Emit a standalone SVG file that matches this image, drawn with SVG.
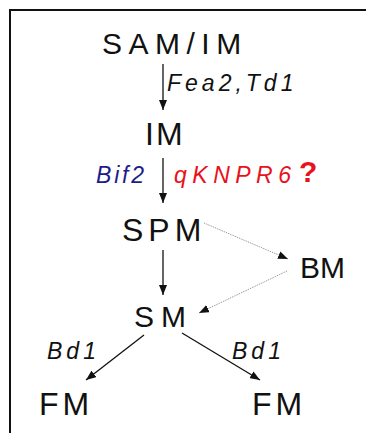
<svg xmlns="http://www.w3.org/2000/svg" width="366" height="433" viewBox="0 0 366 433">
<style>
text{font-family:"Liberation Sans",Arial,sans-serif;fill:#111}
.n{font-size:30px}
.g{font-size:23px;font-style:italic}
.s{stroke:#111;stroke-width:1.3;fill:none}
.d{stroke:#888;stroke-width:1;stroke-dasharray:1 1;fill:none}
</style>
<defs>
<marker id="ah" markerUnits="userSpaceOnUse" markerWidth="10" markerHeight="8" refX="10" refY="4" orient="auto">
<path d="M0,0 L10,4 L0,8 z" fill="#111"/>
</marker>
</defs>
<rect width="366" height="433" fill="#fff"/>
<path d="M10,433 V10 H366" fill="none" stroke="#111" stroke-width="2"/>
<g id="connectors">
<line class="s" x1="163" y1="64" x2="163" y2="110" marker-end="url(#ah)"/>
<line class="s" x1="163" y1="158" x2="163" y2="203" marker-end="url(#ah)"/>
<line class="s" x1="163" y1="250" x2="163" y2="295" marker-end="url(#ah)"/>
<line class="d" x1="204" y1="223" x2="288" y2="259" marker-end="url(#ah)"/>
<line class="d" x1="287" y1="271" x2="199" y2="313" marker-end="url(#ah)"/>
<line class="s" x1="144" y1="335" x2="86" y2="380" marker-end="url(#ah)"/>
<line class="s" x1="182" y1="333" x2="260" y2="380" marker-end="url(#ah)"/>
<text class="g" x="167" y="90.5" letter-spacing="4">Fea2,Td1</text>
<text class="g" x="96" y="183" letter-spacing="2.8" style="fill:#1c1c8a">Bif2</text>
<text class="g" x="174" y="183" letter-spacing="5.5" style="fill:#e8121c">qKNPR6</text>
<text x="299" y="182" style="font-size:30px;font-weight:bold;fill:#e8121c">?</text>
<text class="g" x="47" y="359" letter-spacing="4">Bd1</text>
<text class="g" x="232" y="359" letter-spacing="4">Bd1</text>
</g>
<g id="sam"><text class="n" x="102" y="53.5" letter-spacing="6.5">SAM/IM</text></g>
<g id="im"><text class="n" x="145" y="145" style="font-size:32px" letter-spacing="2">IM</text></g>
<g id="spm"><text class="n" x="122" y="241" style="font-size:32px" letter-spacing="5">SPM</text></g>
<g id="bm"><text class="n" x="300" y="278" letter-spacing="0">BM</text></g>
<g id="sm"><text class="n" x="134" y="327" letter-spacing="7">SM</text></g>
<g id="fm1"><text class="n" x="39" y="415" style="font-size:32px" letter-spacing="4">FM</text></g>
<g id="fm2"><text class="n" x="252" y="415" style="font-size:32px" letter-spacing="4">FM</text></g>
</svg>
